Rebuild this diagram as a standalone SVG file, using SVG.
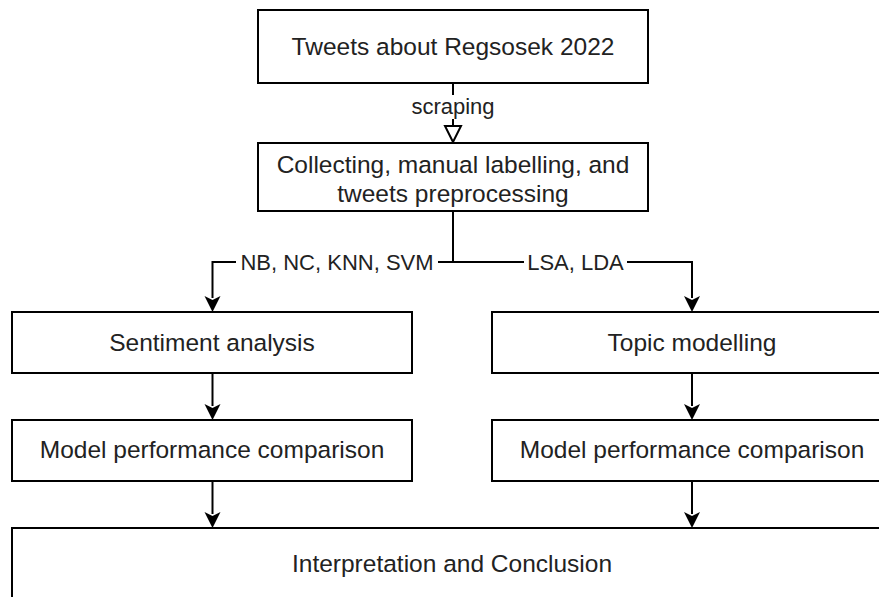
<svg xmlns="http://www.w3.org/2000/svg" width="879" height="597" viewBox="0 0 879 597">
<style>
.box{fill:#fff;stroke:#000;stroke-width:2}
.t{font-family:"Liberation Sans",Arial,sans-serif;font-size:24.5px;fill:#222;text-anchor:middle}
.l{font-family:"Liberation Sans",Arial,sans-serif;font-size:22px;fill:#222;text-anchor:middle}
.c{fill:none;stroke:#000;stroke-width:2}
</style>
<defs>
<marker id="fa" markerWidth="16" markerHeight="18" refX="8" refY="16" orient="auto-start-reverse" markerUnits="userSpaceOnUse" viewBox="0 0 16 18">
<path d="M1,1 L8,5 L15,1 L8,16 Z" fill="#000" stroke="#000" stroke-width="1" transform="rotate(0)"/>
</marker>
</defs>
<rect width="879" height="597" fill="#fff"/>
<g id="connectors">
<line class="c" x1="453" y1="83" x2="453" y2="126"/>
<path d="M445,126 L461,126 L453,142 Z" fill="#fff" stroke="#000" stroke-width="2"/>
<rect x="411" y="95" width="84" height="24" fill="#fff"/>
<text class="l" x="453" y="114">scraping</text>
<path class="c" d="M453,211 V262 H212.5 V298"/>
<path d="M204.5,296 L212.5,300 L220.5,296 L212.5,312 Z" fill="#000"/>
<path class="c" d="M453,262 H692 V298"/>
<path d="M684,296 L692,300 L700,296 L692,312 Z" fill="#000"/>
<rect x="236" y="250" width="202" height="24" fill="#fff"/>
<text class="l" x="337" y="270">NB, NC, KNN, SVM</text>
<rect x="524" y="250" width="103" height="24" fill="#fff"/>
<text class="l" x="575.5" y="270">LSA, LDA</text>
<line class="c" x1="212.5" y1="373" x2="212.5" y2="406"/>
<path d="M204.5,404 L212.5,408 L220.5,404 L212.5,420 Z" fill="#000"/>
<line class="c" x1="692" y1="373" x2="692" y2="406"/>
<path d="M684,404 L692,408 L700,404 L692,420 Z" fill="#000"/>
<line class="c" x1="212.5" y1="481" x2="212.5" y2="514"/>
<path d="M204.5,512 L212.5,516 L220.5,512 L212.5,528 Z" fill="#000"/>
<line class="c" x1="692" y1="481" x2="692" y2="514"/>
<path d="M684,512 L692,516 L700,512 L692,528 Z" fill="#000"/>
</g>
<g id="n-tweets">
<rect class="box" x="258" y="10" width="390" height="73"/>
<text class="t" x="453" y="55">Tweets about Regsosek 2022</text>
</g>
<g id="n-collect">
<rect class="box" x="258" y="143" width="390" height="68"/>
<text class="t" x="453" y="173">Collecting, manual labelling, and</text>
<text class="t" x="453" y="202">tweets preprocessing</text>
</g>
<g id="n-sentiment">
<rect class="box" x="12" y="312" width="400" height="61"/>
<text class="t" x="212" y="351">Sentiment analysis</text>
</g>
<g id="n-topic">
<rect class="box" x="492" y="312" width="400" height="61"/>
<text class="t" x="692" y="351">Topic modelling</text>
</g>
<g id="n-model-left">
<rect class="box" x="12" y="420" width="400" height="61"/>
<text class="t" x="212" y="458">Model performance comparison</text>
</g>
<g id="n-model-right">
<rect class="box" x="492" y="420" width="400" height="61"/>
<text class="t" x="692" y="458">Model performance comparison</text>
</g>
<g id="n-interp">
<rect class="box" x="12" y="528" width="880" height="90"/>
<text class="t" x="452" y="572">Interpretation and Conclusion</text>
</g>
</svg>
